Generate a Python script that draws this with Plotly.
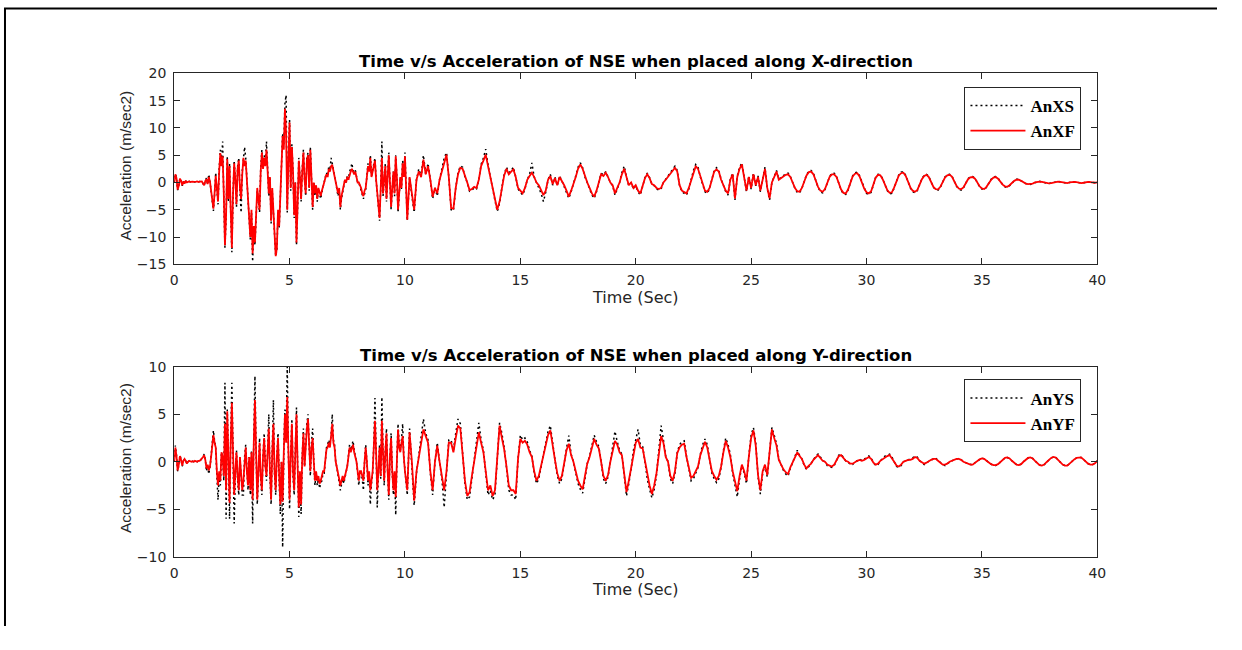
import numpy as np
import plotly.graph_objects as go

# time grid (s): 0.05 s sampling during strong shaking (0-10 s), 0.1 s afterwards
time = np.round(np.concatenate([np.arange(200) * 0.05, 10.0 + np.arange(301) * 0.1]), 2)

# ---- X-direction, 0 - 9.95 s (0.05 s steps)
anxs_a = [
 0.0, 1.6, 0.9, -1.4, -0.7, 0.8, 0.3, -0.6, 0.2, -0.2, 0.3, 0.0, 0.1, 0.2, 0.1, 0.2, 0.15, 0.1, 0.2, 0.15,
 0.2, 0.1, 0.15, 0.3, 0.2, -0.3, -0.6, 0.4, 0.8, -0.4, 1.5, 0.2, -1.8, -3.3, -5.2, -2.3, 1.8, -1.2, -4.0, 2.5,
 6.0, 3.5, 7.5, -2.5, -12.0, -6.5, 4.8, -3.5, 3.5, -5.5, -12.8, -2.5, 4.0, 0.5, -4.5, 3.0, 4.5, -1.5, -5.5, 2.0,
 5.0, 6.5, 4.5, 0.5, -3.0, -6.5, -10.5, -5.5, -14.5, -8.5, -11.5, -6.5, -1.5, -3.5, -5.5, 2.5, 6.0, 3.0, 5.0, 3.5,
 7.5, 2.5, -2.5, 1.0, -7.5, -1.5, -6.5, -9.5, -13.5, -12.5, -5.5, -8.5, -2.5, 2.5, 9.0, 7.0, 14.5, 16.0, -5.5, 5.0,
 11.5, -1.5, 7.0, 2.0, -6.5, 0.0, -11.5, -4.5, 4.5, 1.0, -3.5, 2.5, 6.0, 0.5, -2.5, 4.5, 5.5, -1.5, 6.5, 1.0,
 -5.0, 0.0, -2.5, -0.5, -3.5, -1.2, -2.5, -3.0, -1.8, -0.5, 0.0, 1.0, 1.8, 1.2, 3.0, 2.2, 4.5, 3.5, 2.5, 1.0,
 0.0, -1.2, -2.5, -1.2, -5.0, -3.0, -2.0, -0.5, 0.5, 0.0, 1.2, 0.5, 2.0, 2.5, 3.5, 2.2, 1.8, 2.2, 1.0, 0.0,
 0.0, -0.6, -1.2, -2.2, -3.0, -1.8, -1.2, 1.2, 3.5, 2.2, 5.0, 1.2, 2.5, 4.0, 4.5, 0.5, -2.5, -4.5, -7.0, -1.0,
 7.5, -2.5, 1.0, 3.5, -3.5, 1.0, 5.5, 0.0, -5.0, -1.2, 2.0, -2.5, 5.0, 1.0, -5.5, -2.5, 1.0, -1.2, 4.0, 1.0,
]
anxf_a = [
 0.0, 1.5, 0.8, -1.3, -0.6, 0.7, 0.3, -0.5, 0.2, -0.2, 0.3, 0.0, 0.1, 0.2, 0.1, 0.2, 0.15, 0.1, 0.2, 0.15,
 0.2, 0.1, 0.15, 0.25, 0.2, -0.2, -0.5, 0.3, 0.6, -0.3, 1.0, 0.2, -1.5, -3.0, -4.8, -2.0, 1.2, -1.0, -3.5, 2.0,
 5.4, 3.0, 4.8, -2.0, -11.5, -6.0, 4.3, -3.0, 3.0, -5.0, -12.0, -2.0, 3.5, 0.5, -4.0, 2.5, 4.0, -1.0, -3.0, 1.5,
 4.5, 3.0, 4.0, 0.5, -2.5, -6.0, -10.0, -5.0, -13.0, -8.0, -11.0, -6.0, -1.0, -3.0, -5.0, 2.0, 5.5, 2.5, 4.5, 3.0,
 6.0, 2.0, -2.0, 1.0, -7.0, -1.0, -6.0, -9.0, -13.5, -12.0, -5.0, -8.0, -2.0, 2.0, 8.5, 6.0, 13.5, 9.0, -5.0, 4.0,
 11.0, -1.0, 6.5, 2.0, -6.0, 0.0, -11.0, -4.0, 4.0, 1.0, -3.0, 2.0, 5.5, 0.5, -2.0, 4.0, 5.0, -1.0, 6.0, 1.0,
 -4.5, 0.0, -2.0, -0.5, -3.0, -1.0, -2.0, -2.5, -1.5, -0.5, 0.0, 0.8, 1.5, 1.0, 2.5, 2.0, 3.0, 3.2, 2.0, 1.0,
 0.0, -1.0, -2.0, -1.0, -4.5, -2.5, -1.5, -0.5, 0.5, 0.0, 1.0, 0.5, 1.5, 2.0, 2.5, 2.0, 1.5, 2.0, 1.0, 0.0,
 0.0, -0.5, -1.0, -2.0, -2.5, -1.5, -1.0, 1.0, 3.0, 2.0, 4.5, 1.0, 2.0, 3.5, 4.0, 0.5, -2.0, -4.0, -6.5, -1.0,
 4.5, -2.0, 1.0, 3.0, -3.0, 1.0, 5.0, 0.0, -4.5, -1.0, 2.0, -2.0, 4.8, 1.0, -5.0, -2.0, 1.0, -1.0, 3.5, 1.0,
]

# ---- X-direction, 10.0 - 40.0 s (0.1 s steps)
anxs_b = [
 5.5, -7.0, 1.0, -2.5, -5.5, 0.5, 2.5, 1.0, 5.0, 1.5,
 3.5, 0.5, -3.0, -1.0, -2.5, 0.5, 2.5, 4.5, 5.5, 1.0,
 -5.0, -5.2, -1.0, 1.8, 3.0, 2.8, 1.0, 0.0, -1.6, -1.4,
 -1.0, -1.2, 0.5, 3.3, 4.5, 6.1, 3.2, 1.0, -1.8, -3.3,
 -5.3, -3.8, -1.0, 1.5, 2.8, 1.8, 2.2, 2.8, 1.0, -1.2,
 -1.8, -2.3, -1.2, 0.5, 1.5, 3.6, 1.0, 0.0, -0.8, -2.0,
 -3.5, -1.8, 0.5, 1.5, -0.5, 1.0, -0.6, 1.2, 0.3, -0.7,
 -1.8, -2.9, -1.7, 0.0, 1.2, 2.8, 3.6, 2.7, 1.0, 0.0,
 -1.2, -2.3, -2.9, -1.7, 0.0, 1.7, 1.4, 2.0, 1.0, 0.0,
 -0.6, -2.3, -1.2, 0.0, 1.8, 3.0, 1.0, -0.6, 0.0, -1.2,
 -0.6, -1.7, -2.3, -0.6, 0.9, 1.7, 0.9, -0.3, -0.6, -1.2,
 -1.4, -1.2, 0.0, 0.6, 1.2, 1.7, 2.4, 3.0, 2.2, -0.6,
 -1.7, -2.0, -2.3, -1.2, 0.6, 2.2, 3.3, 2.8, 1.0, -0.6,
 -1.7, -2.0, -1.2, 0.6, 2.2, 2.7, 2.2, 0.6, -0.6, -1.7,
 -2.3, 0.6, 1.7, -3.2, 1.2, 2.8, 3.6, 0.6, -1.7, 1.2,
 -1.2, 1.7, -0.6, 1.2, -1.7, 0.6, 2.8, -1.2, -3.2, 0.0,
 1.2, 2.2, 0.6, 0.9, 1.3, 1.6, 1.7, 1.1, 0.0, -1.1,
 -1.8, -1.9, -1.1, 0.2, 1.4, 2.1, 2.2, 1.7, 0.3, -0.9,
 -1.7, -1.9, -1.3, 0.0, 1.1, 1.7, 1.7, 1.1, -0.2, -1.4,
 -2.1, -2.2, -1.4, 0.0, 1.2, 1.8, 1.9, 1.2, 0.0, -1.2,
 -2.0, -2.2, -1.8, -0.4, 1.0, 1.5, 1.4, 0.7, -0.6, -1.5,
 -2.1, -2.0, -1.0, 0.4, 1.4, 1.9, 2.0, 1.3, 0.1, -1.0,
 -1.7, -1.9, -1.5, -0.4, 0.7, 1.3, 1.5, 1.1, 0.0, -0.9,
 -1.3, -1.4, -0.9, 0.1, 1.0, 1.4, 1.5, 1.2, 0.3, -0.7,
 -1.2, -1.4, -1.0, -0.1, 0.7, 1.0, 1.1, 0.8, 0.0, -0.8,
 -1.2, -1.3, -0.9, -0.1, 0.6, 1.0, 1.1, 0.8, 0.1, -0.4,
 -0.8, -0.9, -0.6, -0.1, 0.3, 0.6, 0.6, 0.3, 0.0, -0.2,
 -0.3, -0.35, -0.2, 0.0, 0.1, 0.2, 0.1, 0.0, -0.1, -0.2,
 -0.1, 0.0, 0.1, 0.2, 0.1, 0.0, -0.1, -0.15, 0.0, 0.1,
 0.15, 0.05, -0.05, -0.1, -0.05, 0.05, 0.1, 0.05, -0.05, -0.05,
 0.0,
]
anxf_b = [
 4.8, -6.8, 1.0, -2.0, -5.0, 0.5, 2.0, 1.0, 4.2, 1.5,
 3.0, 0.5, -2.6, -1.0, -2.0, 0.5, 2.0, 4.0, 5.1, 1.0,
 -4.7, -4.8, -1.0, 1.5, 2.7, 2.5, 1.0, 0.0, -1.4, -1.2,
 -0.8, -1.0, 0.5, 3.0, 4.0, 5.1, 3.0, 1.0, -1.5, -3.0,
 -5.0, -3.5, -1.0, 1.3, 2.5, 1.5, 2.0, 2.4, 1.0, -1.0,
 -1.5, -2.0, -1.0, 0.5, 1.2, 1.8, 1.0, 0.0, -0.5, -1.5,
 -2.3, -1.5, 0.5, 1.2, -0.3, 0.8, -0.5, 1.0, 0.3, -0.5,
 -1.5, -2.6, -1.5, 0.0, 1.0, 2.5, 3.3, 2.5, 1.0, 0.0,
 -1.0, -2.0, -2.6, -1.5, 0.0, 1.5, 1.2, 1.8, 1.0, 0.0,
 -0.5, -2.0, -1.0, 0.0, 1.5, 2.5, 1.0, -0.5, 0.0, -1.0,
 -0.5, -1.5, -2.0, -0.5, 0.8, 1.5, 0.8, -0.3, -0.5, -1.0,
 -1.2, -1.0, 0.0, 0.5, 1.0, 1.5, 2.2, 2.7, 2.0, -0.5,
 -1.5, -1.8, -2.0, -1.0, 0.5, 2.0, 3.0, 2.5, 1.0, -0.5,
 -1.5, -1.7, -1.0, 0.5, 2.0, 2.4, 2.0, 0.5, -0.5, -1.5,
 -2.0, 0.5, 1.5, -2.9, 1.0, 2.5, 3.3, 0.5, -1.5, 1.0,
 -1.0, 1.5, -0.5, 1.0, -1.5, 0.5, 2.5, -1.0, -2.9, 0.0,
 1.0, 2.0, 0.5, 0.8, 1.2, 1.4, 1.5, 1.0, 0.0, -1.0,
 -1.6, -1.7, -1.0, 0.2, 1.3, 1.9, 2.0, 1.5, 0.3, -0.8,
 -1.5, -1.7, -1.2, 0.0, 1.0, 1.5, 1.5, 1.0, -0.2, -1.3,
 -1.9, -2.0, -1.3, 0.0, 1.1, 1.6, 1.7, 1.1, 0.0, -1.1,
 -1.8, -2.0, -1.6, -0.4, 0.9, 1.4, 1.3, 0.6, -0.5, -1.4,
 -1.9, -1.8, -0.9, 0.4, 1.3, 1.7, 1.8, 1.2, 0.1, -0.9,
 -1.5, -1.7, -1.4, -0.4, 0.6, 1.2, 1.4, 1.0, 0.0, -0.8,
 -1.2, -1.25, -0.8, 0.1, 0.9, 1.3, 1.4, 1.1, 0.3, -0.6,
 -1.1, -1.25, -0.9, -0.1, 0.6, 0.95, 1.0, 0.7, 0.0, -0.7,
 -1.1, -1.2, -0.8, -0.1, 0.5, 0.9, 1.0, 0.7, 0.1, -0.4,
 -0.7, -0.8, -0.5, -0.1, 0.3, 0.5, 0.5, 0.3, 0.0, -0.2,
 -0.3, -0.3, -0.2, 0.0, 0.1, 0.15, 0.1, 0.0, -0.1, -0.15,
 -0.1, 0.0, 0.1, 0.15, 0.1, 0.0, -0.1, -0.1, 0.0, 0.1,
 0.12, 0.05, -0.05, -0.1, -0.05, 0.05, 0.1, 0.05, -0.05, -0.05,
 0.0,
]

# ---- Y-direction, 0 - 9.95 s (0.05 s steps)
anys_a = [
 0.0, 1.7, 0.7, -1.0, -0.4, 0.7, 0.2, -0.5, 0.1, 0.3, 0.1, -0.2, 0.0, 0.1, 0.05, 0.0, 0.05, 0.0, 0.1, 0.0,
 0.0, 0.1, 0.1, 0.2, 0.3, 0.5, 0.8, 0.2, -1.0, -0.4, -1.3, -0.6, 0.6, 1.8, 3.3, 2.2, 1.5, -1.5, -4.0, -1.5,
 -2.5, 1.0, 0.5, -2.0, 8.3, -6.0, 5.5, 0.5, -6.0, 2.5, 8.3, 1.0, -6.5, -1.5, 1.2, -2.0, -3.5, 0.5, -2.0, -3.5,
 -3.5, 0.5, 1.8, -1.5, -3.0, 0.5, -3.5, 1.2, -6.5, 2.5, 9.0, 1.0, -4.5, -1.5, 2.5, -2.0, -3.5, 0.5, 3.0, -0.5,
 -2.0, 1.2, 5.0, -1.5, -4.5, 1.2, 6.5, -1.5, -3.5, 0.5, 3.0, -2.0, -5.5, 0.0, -9.0, 1.2, 5.5, 2.5, 10.0, 1.0,
 -5.0, 0.5, 4.5, -1.5, -3.5, 1.2, 5.7, -0.5, -5.8, -1.5, -5.5, 0.5, 3.5, -0.5, 2.0, 4.0, 5.0, 1.2, -1.5, 2.0,
 3.5, 0.0, -2.5, -1.2, -2.5, -1.8, -2.8, -2.3, -2.0, -1.2, -1.2, 0.0, 1.5, 1.8, 2.3, 1.8, 2.8, 5.0, 2.3, 1.8,
 0.0, -0.6, -1.2, -2.2, -3.0, -2.3, -1.8, -2.3, -1.8, -1.2, -0.5, 0.6, 1.8, 1.2, 1.8, 2.2, 1.2, 0.6, 0.0, -1.2,
 -2.5, -1.2, -1.2, -1.8, -3.0, 0.0, 1.8, 0.0, -2.5, -1.2, -4.5, -2.3, -1.2, 1.8, 6.7, 1.2, -4.8, -1.2, 1.8, -1.8,
 6.8, 1.2, -2.5, 1.2, 3.5, -1.2, -4.0, 0.5, 3.0, -1.2, -3.5, -1.2, -5.6, 0.0, 4.0, 1.8, 1.2, 2.3, 4.0, 0.5,
]
anyf_a = [
 0.0, 1.5, 0.6, -0.9, -0.3, 0.6, 0.2, -0.4, 0.1, 0.3, 0.1, -0.2, 0.0, 0.1, 0.05, 0.0, 0.05, 0.0, 0.1, 0.0,
 0.0, 0.1, 0.1, 0.2, 0.3, 0.5, 0.7, 0.2, -0.7, -0.3, -0.9, -0.5, 0.5, 1.5, 2.8, 2.0, 1.5, -1.0, -2.5, -1.0,
 -2.0, 1.0, 0.5, -1.5, 4.0, -3.0, 5.3, 0.5, -4.3, 2.0, 6.2, 1.0, -3.5, -1.0, 1.0, -1.5, -3.0, 0.5, -1.5, -3.0,
 -2.0, 0.5, 1.5, -1.0, -2.5, 0.5, -3.0, 1.0, -4.0, 2.0, 6.5, 1.0, -4.0, -1.0, 2.0, -1.5, -3.0, 0.5, 2.5, -0.5,
 -1.5, 1.0, 3.5, -1.0, -4.0, 1.0, 4.0, -1.0, -3.0, 0.5, 2.5, -1.5, -4.5, 0.0, -4.2, 1.0, 5.0, 2.0, 6.8, 1.0,
 -4.0, 0.5, 4.0, -1.0, -3.0, 1.0, 5.0, -0.5, -4.8, -1.0, -4.5, 0.5, 3.0, -0.5, 2.0, 3.5, 4.5, 1.0, -1.0, 1.5,
 2.5, 0.0, -2.0, -1.0, -2.0, -1.5, -2.3, -2.0, -1.5, -1.0, -1.0, 0.0, 1.3, 1.5, 2.0, 1.5, 2.5, 4.0, 2.0, 1.5,
 0.0, -0.5, -1.0, -1.8, -2.5, -2.0, -1.5, -2.0, -1.5, -1.0, -0.5, 0.5, 1.5, 1.0, 1.5, 1.8, 1.0, 0.5, 0.0, -1.0,
 -2.0, -1.0, -1.0, -1.5, -2.0, 0.0, 1.5, 0.0, -2.0, -1.0, -3.0, -2.0, -1.0, 1.5, 4.3, 1.0, -3.0, -1.0, 1.5, -1.5,
 4.3, 1.0, -2.0, 1.0, 3.0, -1.0, -3.5, 0.5, 2.5, -1.0, -3.0, -1.0, -3.7, 0.0, 3.4, 1.5, 1.0, 2.0, 2.7, 0.5,
]

# ---- Y-direction, 10.0 - 40.0 s (0.1 s steps)
anys_b = [
 -1.2, -3.5, 3.5, 0.0, -4.6, -1.2, 0.6, 2.3, 4.5, 3.0,
 2.3, -1.2, -3.5, 0.0, 2.0, 0.0, -1.8, -4.8, -1.2, 2.3,
 2.3, 1.2, 3.0, 4.5, 4.0, 0.3, -2.3, -4.0, -3.7, -1.8,
 0.0, 1.8, 4.1, 2.3, 1.2, -1.2, -3.5, -3.0, -4.0, -3.5,
 0.3, 4.1, 3.0, 1.5, -0.6, -3.0, -3.5, -3.5, -4.0, 0.3,
 2.8, 2.3, 2.5, 2.1, 1.2, 0.6, -1.2, -2.3, -1.8, -0.6,
 0.6, 1.8, 3.2, 3.8, 1.8, 0.2, -1.4, -2.3, -1.8, 0.0,
 1.4, 2.75, 0.8, 0.0, -1.2, -2.3, -2.9, -3.3, -1.8, -0.2,
 0.6, 1.8, 2.8, 2.1, 1.6, 0.0, -1.8, -2.3, -1.6, 0.0,
 1.4, 3.2, 2.1, 1.2, 0.8, -1.2, -3.6, -2.3, -0.8, 1.2,
 2.3, 3.4, 1.8, 1.6, 0.0, -1.8, -2.9, -3.8, -2.9, -1.4,
 1.2, 3.8, 2.3, 0.6, 0.0, -1.8, -2.3, -1.2, 1.0, 1.8,
 2.1, 2.2, 0.6, -0.9, -2.0, -1.8, -1.2, -0.6, 0.8, 1.8,
 2.4, 1.8, 0.3, -1.2, -1.8, -2.2, -1.8, -0.6, 1.2, 2.5,
 1.8, 0.8, -1.2, -2.3, -3.7, -1.8, -0.4, -1.2, -2.3, 0.6,
 2.8, 3.6, 2.0, -1.6, -3.4, -1.2, -0.4, -1.6, 1.2, 3.6,
 2.8, 1.9, 0.3, -0.4, -0.9, -1.3, -1.5, -0.7, 0.0, 0.7,
 1.2, 0.7, 0.3, -0.4, -0.8, -0.5, -0.2, 0.2, 0.6, 0.8,
 0.5, 0.1, 0.0, -0.4, -0.5, -0.6, -0.4, 0.2, 0.7, 0.8,
 0.5, 0.1, 0.0, -0.3, -0.3, 0.0, 0.1, 0.3, 0.1, 0.3,
 0.5, 0.6, 0.4, -0.1, -0.4, -0.3, 0.1, 0.4, 0.6, 0.7,
 0.8, 0.5, 0.0, -0.5, -0.6, -0.4, 0.0, 0.1, 0.2, 0.3,
 0.4, 0.6, 0.5, 0.1, -0.1, -0.3, -0.1, 0.1, 0.2, 0.3,
 0.4, 0.1, -0.1, -0.3, -0.4, -0.2, 0.0, 0.1, 0.2, 0.3,
 0.35, 0.2, 0.0, -0.1, -0.2, -0.3, -0.35, -0.1, 0.1, 0.25,
 0.4, 0.3, 0.1, -0.1, -0.25, -0.4, -0.4, -0.25, 0.0, 0.2,
 0.4, 0.45, 0.35, 0.1, -0.15, -0.3, -0.35, -0.25, 0.0, 0.25,
 0.4, 0.45, 0.35, 0.1, -0.15, -0.35, -0.4, -0.3, -0.05, 0.2,
 0.4, 0.5, 0.45, 0.2, -0.05, -0.3, -0.4, -0.4, -0.2, 0.05,
 0.25, 0.4, 0.45, 0.45, 0.25, 0.0, -0.2, -0.3, -0.3, -0.15,
 0.1,
]
anyf_b = [
 -1.0, -3.0, 3.1, 0.0, -4.1, -1.0, 0.5, 2.0, 3.4, 2.7,
 2.0, -1.0, -3.0, 0.0, 1.7, 0.0, -1.5, -3.0, -1.0, 2.0,
 2.0, 1.0, 2.5, 3.8, 3.5, 0.3, -2.0, -3.6, -3.2, -1.5,
 0.0, 1.5, 3.1, 2.0, 1.0, -1.0, -3.0, -2.5, -3.6, -3.0,
 0.3, 3.8, 2.5, 1.3, -0.5, -2.5, -3.0, -3.0, -3.4, 0.3,
 2.4, 2.0, 2.2, 1.8, 1.0, 0.5, -1.0, -2.0, -1.5, -0.5,
 0.5, 1.5, 2.8, 3.3, 1.5, 0.2, -1.2, -2.0, -1.5, 0.0,
 1.2, 1.9, 0.7, 0.0, -1.0, -2.0, -2.5, -2.9, -1.5, -0.2,
 0.5, 1.5, 2.4, 1.8, 1.4, 0.0, -1.5, -2.0, -1.4, 0.0,
 1.2, 2.2, 1.8, 1.0, 0.7, -1.0, -3.2, -2.0, -0.7, 1.0,
 2.0, 2.4, 1.5, 1.4, 0.0, -1.5, -2.5, -3.4, -2.5, -1.2,
 1.0, 2.7, 2.0, 0.5, 0.0, -1.5, -2.0, -1.0, 0.9, 1.5,
 1.8, 1.9, 0.5, -0.8, -1.7, -1.5, -1.0, -0.5, 0.7, 1.5,
 2.1, 1.5, 0.3, -1.0, -1.5, -1.9, -1.5, -0.5, 1.0, 2.2,
 1.5, 0.5, -1.0, -2.0, -3.1, -1.5, -0.3, -1.0, -2.0, 0.5,
 2.5, 3.3, 1.7, -1.4, -3.0, -1.0, -0.3, -1.4, 1.0, 3.4,
 2.5, 1.7, 0.2, -0.3, -0.8, -1.1, -1.3, -0.6, 0.0, 0.6,
 1.0, 0.6, 0.3, -0.3, -0.7, -0.4, -0.2, 0.2, 0.5, 0.7,
 0.4, 0.1, 0.0, -0.3, -0.4, -0.5, -0.3, 0.2, 0.6, 0.7,
 0.4, 0.1, 0.0, -0.2, -0.2, 0.0, 0.1, 0.2, 0.1, 0.2,
 0.4, 0.5, 0.3, -0.1, -0.3, -0.2, 0.1, 0.3, 0.5, 0.6,
 0.7, 0.4, 0.0, -0.4, -0.5, -0.3, 0.0, 0.1, 0.2, 0.2,
 0.3, 0.5, 0.4, 0.1, -0.1, -0.2, -0.1, 0.1, 0.2, 0.3,
 0.3, 0.1, -0.1, -0.3, -0.3, -0.2, 0.0, 0.1, 0.2, 0.3,
 0.3, 0.2, 0.0, -0.1, -0.2, -0.3, -0.3, -0.1, 0.1, 0.25,
 0.35, 0.3, 0.1, -0.1, -0.25, -0.35, -0.35, -0.25, 0.0, 0.2,
 0.4, 0.45, 0.35, 0.1, -0.15, -0.3, -0.35, -0.25, 0.0, 0.25,
 0.4, 0.45, 0.35, 0.1, -0.15, -0.35, -0.4, -0.3, -0.05, 0.2,
 0.4, 0.5, 0.45, 0.2, -0.05, -0.3, -0.4, -0.4, -0.2, 0.05,
 0.25, 0.4, 0.45, 0.45, 0.25, 0.0, -0.2, -0.3, -0.3, -0.15,
 0.1,
]

anxs = anxs_a + anxs_b
anxf = anxf_a + anxf_b
anys = anys_a + anys_b
anyf = anyf_a + anyf_b

titles = ["Time v/s Acceleration of NSE when placed along X-direction",
          "Time v/s Acceleration of NSE when placed along Y-direction"]
x_title = "Time (Sec)"
y_title = "Acceleration (m/sec2)"
x_ticks = [0, 5, 10, 15, 20, 25, 30, 35, 40]

# The page body keeps an 8 px margin, so the figure is 16 px smaller than
# the window and all page positions below are shifted by 8 px.
OFF = 8
W, H = 1242 - 2 * OFF, 650 - 2 * OFF
def px(x):
    return (x - OFF) / W
def py(y):
    return 1 - (y - OFF) / H

fig = go.Figure()
dot = "2px,3px"
fig.add_trace(go.Scatter(x=time, y=anxs, name="AnXS", mode="lines",
                         line=dict(color="black", width=1.5, dash=dot),
                         xaxis="x", yaxis="y", legend="legend"))
fig.add_trace(go.Scatter(x=time, y=anxf, name="AnXF", mode="lines",
                         line=dict(color="#ff0000", width=1.8),
                         xaxis="x", yaxis="y", legend="legend"))
fig.add_trace(go.Scatter(x=time, y=anys, name="AnYS", mode="lines",
                         line=dict(color="black", width=1.5, dash=dot),
                         xaxis="x2", yaxis="y2", legend="legend2"))
fig.add_trace(go.Scatter(x=time, y=anyf, name="AnYF", mode="lines",
                         line=dict(color="#ff0000", width=1.8),
                         xaxis="x2", yaxis="y2", legend="legend2"))

tickfont = dict(family="DejaVu Sans", size=14, color="#262626")
common_x = dict(range=[0, 40], tickvals=x_ticks, ticks="inside", ticklen=6,
                tickcolor="#262626", showline=True, mirror="ticks",
                linecolor="#262626", linewidth=1, showgrid=False, zeroline=False,
                tickfont=tickfont, ticklabelstandoff=3)
common_y = dict(ticks="inside", ticklen=6, tickcolor="#262626", showline=True,
                mirror="ticks", linecolor="#262626", linewidth=1, showgrid=False,
                zeroline=False, tickfont=tickfont, ticklabelstandoff=4)

legfont = dict(family="Liberation Serif", size=17, color="black", weight="bold")
xd = [px(180), px(1113)]
fig.update_layout(
    width=W, height=H,
    margin=dict(l=0, r=0, t=0, b=0),
    paper_bgcolor="white", plot_bgcolor="white",
    xaxis=dict(domain=xd, anchor="y", **common_x),
    yaxis=dict(domain=[py(271), py(75)], anchor="x", range=[-15, 20],
               tickvals=[-15, -10, -5, 0, 5, 10, 15, 20], **common_y),
    xaxis2=dict(domain=xd, anchor="y2", **common_x),
    yaxis2=dict(domain=[py(571), py(376)], anchor="x2", range=[-10, 10],
                tickvals=[-10, -5, 0, 5, 10], **common_y),
    legend=dict(x=px(1097), xanchor="right", y=py(89), yanchor="top",
                bgcolor="white", bordercolor="#262626", borderwidth=1,
                font=legfont, tracegroupgap=0, itemwidth=55),
    legend2=dict(x=px(1097), xanchor="right", y=py(389), yanchor="top",
                 bgcolor="white", bordercolor="#262626", borderwidth=1,
                 font=legfont, tracegroupgap=0, itemwidth=55),
    showlegend=True,
)

ann = []
for t, y in zip(titles, [63, 364]):
    ann.append(dict(text="<b>" + t + "</b>", x=px(646.5), y=py(y), xref="paper", yref="paper",
                    xanchor="center", yanchor="middle", showarrow=False,
                    font=dict(family="DejaVu Sans", size=16.5, color="black")))
for y in [305, 605]:
    ann.append(dict(text=x_title, x=px(646.5), y=py(y), xref="paper", yref="paper",
                    xanchor="center", yanchor="middle", showarrow=False,
                    font=dict(family="DejaVu Sans", size=16, color="#262626")))
for y in [170, 470]:
    ann.append(dict(text=y_title, x=px(131), y=py(y), xref="paper", yref="paper",
                    xanchor="center", yanchor="middle", showarrow=False, textangle=-90,
                    font=dict(family="Liberation Sans", size=15.5, color="#262626")))
fig.update_layout(annotations=ann)

# figure frame (left and top edges)
fig.add_shape(type="line", xref="paper", yref="paper", x0=px(9), x1=px(9),
              y0=0, y1=1, line=dict(color="black", width=2))
fig.add_shape(type="line", xref="paper", yref="paper", x0=px(8), x1=1,
              y0=py(8.5), y1=py(8.5), line=dict(color="black", width=2))

fig.write_html("out.html")
